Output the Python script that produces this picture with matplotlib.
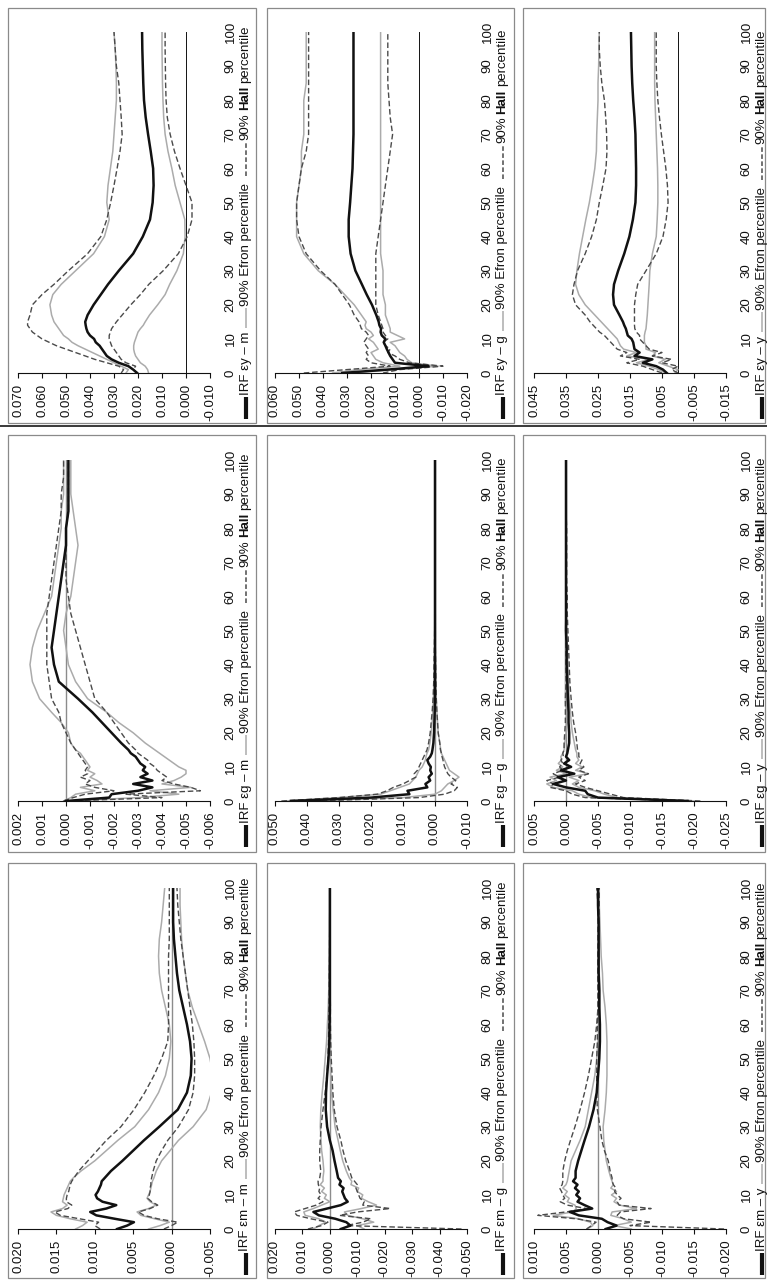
import matplotlib
matplotlib.use("Agg")
import matplotlib.pyplot as plt
from matplotlib import font_manager
from matplotlib.lines import Line2D
from matplotlib.patches import Rectangle

avail = {f.name for f in font_manager.fontManager.ttflist}
FAM = [f for f in ["Liberation Sans Narrow", "Liberation Sans", "DejaVu Sans"] if f in avail]
plt.rcParams['font.family'] = FAM

# ---------------- data ----------------
H = [0, 1, 2, 3, 4, 5, 6, 7, 8, 9, 10, 11, 12, 13, 14, 15, 17, 20, 23, 26, 30, 35, 40, 45,
     50, 55, 60, 65, 70, 75, 80, 85, 90, 95, 100]
HORIZON_TICKS = [0, 10, 20, 30, 40, 50, 60, 70, 80, 90, 100]

# shock e_y -> m
ym_irf = [0.0204, 0.022, 0.024, 0.028, 0.031, 0.033, 0.034, 0.035, 0.036, 0.0376, 0.0383, 0.040, 0.041, 0.0415, 0.0418, 0.042,
          0.041, 0.0385, 0.0355, 0.0325, 0.028, 0.022, 0.018, 0.015, 0.0139, 0.0135, 0.0137, 0.0147, 0.0158, 0.0168, 0.0175, 0.0178, 0.018, 0.0182, 0.0183]
ym_efron_hi = [0.025, 0.024, 0.027, 0.030, 0.033, 0.036, 0.039, 0.042, 0.045, 0.0475, 0.049, 0.051, 0.052, 0.053, 0.054, 0.055,
               0.056, 0.0567, 0.0555, 0.052, 0.046, 0.0385, 0.034, 0.032, 0.033, 0.0325, 0.0315, 0.0305, 0.030, 0.0295, 0.029, 0.029, 0.0292, 0.0295, 0.030]
ym_efron_lo = [0.0156, 0.016, 0.017, 0.019, 0.020, 0.021, 0.0215, 0.0218, 0.0218, 0.0215, 0.021, 0.0205, 0.020, 0.019, 0.0178, 0.017,
               0.0152, 0.0118, 0.0087, 0.0068, 0.0038, 0.0011, 0.0004, 0.0005, 0.0025, 0.0045, 0.0059, 0.0075, 0.0087, 0.0093, 0.0096, 0.0098, 0.0099, 0.010, 0.010]
ym_hall_hi = [0.027, 0.026, 0.028, 0.033, 0.038, 0.042, 0.046, 0.050, 0.054, 0.057, 0.060, 0.062, 0.064, 0.065, 0.066, 0.066,
              0.065, 0.064, 0.060, 0.055, 0.049, 0.041, 0.0355, 0.033, 0.0314, 0.030, 0.0287, 0.0275, 0.0266, 0.027, 0.0275, 0.028, 0.029, 0.0295, 0.030]
ym_hall_lo = [0.020, 0.022, 0.021, 0.025, 0.027, 0.028, 0.029, 0.030, 0.031, 0.0315, 0.032, 0.032, 0.0315, 0.031, 0.030, 0.029,
              0.0266, 0.023, 0.019, 0.0155, 0.0095, 0.0032, -0.0005, -0.0025, -0.0025, 0.0, 0.0025, 0.0048, 0.0066, 0.0078, 0.0083, 0.0085, 0.0086, 0.0087, 0.0087]

# shock e_y -> g
yg_irf = [0.032, 0.013, -0.004, 0.010, 0.011, 0.012, 0.0127, 0.0134, 0.014, 0.0147, 0.014, 0.0155, 0.016, 0.0158, 0.0165, 0.0168,
          0.0178, 0.0196, 0.0218, 0.0238, 0.0265, 0.0285, 0.0293, 0.0293, 0.0287, 0.0282, 0.0277, 0.0275, 0.0273, 0.0273, 0.0273, 0.0273, 0.0273, 0.0273, 0.0273]
yg_efron_hi = [0.036, 0.025, 0.008, 0.015, 0.018, 0.019, 0.020, 0.017, 0.018, 0.019, 0.021, 0.019, 0.020, 0.022, 0.0225, 0.022,
               0.024, 0.027, 0.031, 0.035, 0.042, 0.048, 0.051, 0.051, 0.051, 0.050, 0.049, 0.049, 0.048, 0.048, 0.048, 0.047, 0.047, 0.047, 0.047]
yg_efron_lo = [0.028, 0.010, -0.008, 0.003, 0.005, 0.006, 0.008, 0.009, 0.010, 0.012, 0.006, 0.009, 0.012, 0.012, 0.0125, 0.013,
               0.014, 0.014, 0.015, 0.015, 0.015, 0.016, 0.016, 0.016, 0.016, 0.016, 0.016, 0.016, 0.016, 0.016, 0.016, 0.016, 0.016, 0.016, 0.016]
yg_hall_hi = [0.048, 0.030, 0.012, 0.020, 0.022, 0.021, 0.022, 0.021, 0.022, 0.023, 0.022, 0.021, 0.022, 0.024, 0.0245, 0.025,
              0.027, 0.029, 0.032, 0.035, 0.041, 0.047, 0.050, 0.051, 0.051, 0.050, 0.049, 0.047, 0.046, 0.046, 0.046, 0.046, 0.046, 0.046, 0.046]
yg_hall_lo = [0.015, 0.008, -0.010, 0.004, 0.008, 0.010, 0.013, 0.012, 0.014, 0.015, 0.013, 0.014, 0.015, 0.015, 0.0155, 0.016,
              0.017, 0.018, 0.018, 0.018, 0.018, 0.018, 0.017, 0.016, 0.015, 0.014, 0.013, 0.012, 0.011, 0.012, 0.0125, 0.013, 0.013, 0.013, 0.013]

# shock e_y -> y
yy_irf = [0.0035, 0.0047, 0.0068, 0.011, 0.008, 0.0136, 0.012, 0.0136, 0.0138, 0.014, 0.0145, 0.0157, 0.016, 0.0163, 0.0168, 0.0172,
          0.0183, 0.0200, 0.0203, 0.0200, 0.0187, 0.0168, 0.0152, 0.0141, 0.0133, 0.0131, 0.0131, 0.0132, 0.0133, 0.0136, 0.0140, 0.0143, 0.0145, 0.0146, 0.0147]
yy_efron_hi = [0.004, 0.006, 0.009, 0.013, 0.009, 0.016, 0.013, 0.017, 0.018, 0.0185, 0.019, 0.020, 0.021, 0.022, 0.023, 0.024,
               0.026, 0.029, 0.031, 0.032, 0.0316, 0.0308, 0.0298, 0.0288, 0.0277, 0.0268, 0.026, 0.0255, 0.0254, 0.0252, 0.025, 0.025, 0.0248, 0.0247, 0.0246]
yy_efron_lo = [0.001, 0.000, 0.003, 0.006, 0.004, 0.008, 0.007, 0.010, 0.010, 0.0105, 0.0105, 0.0105, 0.0103, 0.0100, 0.0099, 0.0098,
               0.0096, 0.0094, 0.0092, 0.0090, 0.0088, 0.0080, 0.0068, 0.0065, 0.0063, 0.0063, 0.0064, 0.0066, 0.0068, 0.0070, 0.0072, 0.0073, 0.0073, 0.0073, 0.0073]
yy_hall_hi = [0.005, 0.008, 0.011, 0.016, 0.012, 0.018, 0.016, 0.019, 0.020, 0.021, 0.022, 0.023, 0.0245, 0.0255, 0.0265, 0.0275,
              0.029, 0.032, 0.033, 0.0325, 0.0314, 0.029, 0.0270, 0.0255, 0.0246, 0.0235, 0.0225, 0.0222, 0.0223, 0.0226, 0.0230, 0.0238, 0.0243, 0.0246, 0.0246]
yy_hall_lo = [0.000, 0.002, 0.000, 0.005, 0.002, 0.008, 0.005, 0.009, 0.010, 0.011, 0.012, 0.012, 0.013, 0.0135, 0.0136, 0.0136,
              0.0136, 0.0136, 0.0132, 0.0126, 0.0100, 0.0068, 0.0047, 0.0037, 0.0031, 0.0033, 0.0038, 0.0045, 0.0052, 0.0058, 0.0063, 0.0066, 0.0068, 0.0068, 0.0068]

# shock e_g -> m
gm_irf = [0.0, -0.0018, -0.0019, -0.0030, -0.0036, -0.0028, -0.0036, -0.0031, -0.0034, -0.0032, -0.0033, -0.0031, -0.0030, -0.0029, -0.0027, -0.0026,
          -0.0023, -0.0019, -0.0015, -0.0011, -0.0005, 0.0003, 0.0005, 0.0006, 0.0005, 0.0004, 0.0003, 0.0002, 0.0001, 0.0, 0.0, -0.0001, -0.0001, -0.0001, -0.0001]
gm_efron_hi = [0.0001, -0.0002, -0.0004, -0.0012, -0.0006, -0.0015, -0.0013, -0.0010, -0.0012, -0.0009, -0.0010, -0.0009, -0.0008, -0.0007, -0.0006, -0.0004,
               -0.0002, -0.0001, 0.0002, 0.0006, 0.0011, 0.0014, 0.0015, 0.0014, 0.0012, 0.0009, 0.0006, 0.0005, 0.0004, 0.0003, 0.0002, 0.0002, 0.0001, 0.0001, 0.0001]
gm_efron_lo = [-0.0001, -0.0030, -0.0047, -0.0035, -0.0052, -0.0040, -0.0045, -0.0048, -0.0050, -0.0050, -0.0047, -0.0045, -0.0043, -0.0041, -0.0039, -0.0037,
               -0.0033, -0.0028, -0.0022, -0.0017, -0.0009, -0.0004, -0.0001, 0.0, 0.0001, 0.0, -0.0002, -0.0003, -0.0004, -0.0005, -0.0004, -0.0003, -0.0002, -0.0002, -0.0002]
gm_hall_hi = [0.0001, -0.0003, -0.0008, -0.0020, -0.0012, -0.0008, -0.0010, -0.0006, -0.0009, -0.0008, -0.0009, -0.0008, -0.0007, -0.0006, -0.0005, -0.0004,
              -0.0002, 0.0, 0.0002, 0.0003, 0.0006, 0.0007, 0.0008, 0.0008, 0.0008, 0.0008, 0.0007, 0.0006, 0.0005, 0.0004, 0.0003, 0.0002, 0.0002, 0.0001, 0.0001]
gm_hall_lo = [-0.0001, -0.0040, -0.0025, -0.0056, -0.0052, -0.0045, -0.0040, -0.0042, -0.0040, -0.0038, -0.0037, -0.0035, -0.0034, -0.0032, -0.0030, -0.0029,
              -0.0026, -0.0023, -0.0020, -0.0017, -0.0012, -0.0010, -0.0008, -0.0006, -0.0004, -0.0002, -0.0001, 0.0, 0.0, 0.0, 0.0, -0.0001, -0.0001, -0.0001, -0.0001]

# shock e_g -> g
gg_irf = [0.045, 0.020, 0.008, 0.0086, 0.0024, 0.003, 0.0015, 0.002, 0.001, 0.0015, 0.0013, 0.0020, 0.0024, 0.0015, 0.0010, 0.0008,
          0.0005, 0.0003, 0.0002, 0.0001, 0.0, 0.0, 0.0, 0.0, 0.0, 0.0, 0.0, 0.0, 0.0, 0.0, 0.0, 0.0, 0.0, 0.0, 0.0]
gg_efron_hi = [0.047, 0.030, 0.017, 0.014, 0.011, 0.008, 0.007, 0.006, 0.0055, 0.005, 0.004, 0.0035, 0.003, 0.0028, 0.0025, 0.002,
               0.0016, 0.0012, 0.0009, 0.0007, 0.0005, 0.0003, 0.0002, 0.0001, 0.0001, 0.0, 0.0, 0.0, 0.0, 0.0, 0.0, 0.0, 0.0, 0.0, 0.0]
gg_efron_lo = [0.040, 0.010, 0.0, -0.002, -0.003, -0.004, -0.006, -0.0075, -0.006, -0.0045, -0.004, -0.0035, -0.003, -0.0025, -0.002, -0.0018,
               -0.0015, -0.001, -0.0008, -0.0006, -0.0004, -0.0003, -0.0002, -0.0001, -0.0001, 0.0, 0.0, 0.0, 0.0, 0.0, 0.0, 0.0, 0.0, 0.0, 0.0]
gg_hall_hi = [0.048, 0.030, 0.018, 0.015, 0.013, 0.010, 0.008, 0.006, 0.0065, 0.0055, 0.005, 0.0045, 0.004, 0.0035, 0.003, 0.0025,
              0.002, 0.0015, 0.0012, 0.0009, 0.0006, 0.0004, 0.0003, 0.0002, 0.0001, 0.0001, 0.0, 0.0, 0.0, 0.0, 0.0, 0.0, 0.0, 0.0, 0.0]
gg_hall_lo = [0.038, 0.005, -0.003, -0.006, -0.007, -0.005, -0.0065, -0.005, -0.004, -0.0035, -0.003, -0.0027, -0.0025, -0.0022, -0.002, -0.0017,
              -0.0015, -0.001, -0.0008, -0.0006, -0.0004, -0.0003, -0.0002, -0.0001, -0.0001, -0.0001, 0.0, 0.0, 0.0, 0.0, 0.0, 0.0, 0.0, 0.0, 0.0]

# shock e_g -> y
gy_irf = [-0.019, -0.005, -0.0034, -0.003, 0.0, 0.002, 0.0, 0.0013, -0.0013, 0.0008, -0.0008, 0.0003, -0.0005, 0.0, -0.0002, -0.0003,
          -0.0005, -0.0005, -0.0004, -0.0004, -0.0003, -0.0002, -0.0001, -0.0001, 0.0, 0.0, 0.0, 0.0, 0.0, 0.0, 0.0, 0.0, 0.0, 0.0, 0.0]
gy_efron_hi = [-0.0195, -0.004, -0.002, -0.001, 0.002, 0.003, 0.0015, 0.0025, 0.0, 0.0015, 0.0005, 0.0012, 0.0007, 0.0008, 0.0005, 0.0003,
               0.0002, 0.0, 0.0, 0.0, 0.0001, 0.0001, 0.0001, 0.0001, 0.0001, 0.0, 0.0, 0.0, 0.0, 0.0, 0.0, 0.0, 0.0, 0.0, 0.0]
gy_efron_lo = [-0.020, -0.008, -0.006, -0.0045, -0.002, -0.001, -0.002, -0.0005, -0.0035, -0.0015, -0.0025, -0.0015, -0.002, -0.0017, -0.0017, -0.0015,
               -0.0013, -0.001, -0.0008, -0.0007, -0.0005, -0.0004, -0.0003, -0.0002, -0.0001, -0.0001, 0.0, 0.0, 0.0, 0.0, 0.0, 0.0, 0.0, 0.0, 0.0]
gy_hall_hi = [-0.019, -0.003, -0.001, 0.0, 0.0025, 0.002, 0.003, 0.001, 0.002, 0.0005, 0.001, 0.0005, 0.0008, 0.0004, 0.0005, 0.0003,
              0.0003, 0.0002, 0.0001, 0.0001, 0.0001, 0.0, 0.0, 0.0, 0.0, 0.0, 0.0, 0.0, 0.0, 0.0, 0.0, 0.0, 0.0, 0.0, 0.0]
gy_hall_lo = [-0.021, -0.009, -0.007, -0.005, -0.003, -0.0015, -0.003, -0.002, -0.0035, -0.002, -0.0028, -0.0022, -0.0025, -0.002, -0.002, -0.0018,
              -0.0017, -0.0015, -0.0012, -0.001, -0.0008, -0.0006, -0.0005, -0.0004, -0.0003, -0.0002, -0.0002, -0.0001, -0.0001, -0.0001, -0.0001, 0.0, 0.0, 0.0, 0.0]

# shock e_m -> m
mm_irf = [0.0071, 0.0058, 0.0049, 0.0074, 0.0098, 0.0106, 0.0085, 0.0072, 0.0090, 0.0097, 0.0099, 0.0096, 0.0094, 0.0092, 0.0091, 0.0087,
          0.0079, 0.0064, 0.0050, 0.0036, 0.0016, -0.0008, -0.0020, -0.0025, -0.0026, -0.0024, -0.0020, -0.0015, -0.0010, -0.0007, -0.0005, -0.0003, -0.0002, -0.0002, -0.0002]
mm_efron_hi = [0.0125, 0.0116, 0.0110, 0.0132, 0.0150, 0.0157, 0.0142, 0.0136, 0.0142, 0.0141, 0.0140, 0.0138, 0.0136, 0.0134, 0.0132, 0.0128,
               0.0118, 0.0100, 0.0085, 0.0070, 0.0048, 0.0030, 0.0017, 0.0008, 0.0003, 0.0001, 0.0003, 0.0008, 0.0013, 0.0016, 0.0017, 0.0016, 0.0013, 0.0011, 0.0009]
mm_efron_lo = [0.0030, 0.0015, 0.0003, 0.0022, 0.0040, 0.0045, 0.0030, 0.0020, 0.0028, 0.0032, 0.0030, 0.0028, 0.0027, 0.0026, 0.0025, 0.0023,
               0.0020, 0.0013, 0.0002, -0.0009, -0.0028, -0.0045, -0.0052, -0.0054, -0.0050, -0.0043, -0.0035, -0.0027, -0.0021, -0.0018, -0.0015, -0.0013, -0.0012, -0.0011, -0.0011]
mm_hall_hi = [0.0093, 0.0100, 0.0095, 0.0120, 0.0145, 0.0152, 0.0135, 0.0130, 0.0137, 0.0137, 0.0136, 0.0134, 0.0133, 0.0132, 0.0130, 0.0127,
              0.0121, 0.0109, 0.0097, 0.0085, 0.0066, 0.0049, 0.0035, 0.0023, 0.0013, 0.0005, 0.0004, 0.0004, 0.0004, 0.0004, 0.0004, 0.0003, 0.0003, 0.0003, 0.0003]
mm_hall_lo = [0.0010, 0.0, -0.0008, 0.0018, 0.0036, 0.0043, 0.0028, 0.0018, 0.0026, 0.0031, 0.0029, 0.0028, 0.0028, 0.0027, 0.0027, 0.0026,
              0.0024, 0.0020, 0.0013, 0.0005, -0.0009, -0.0022, -0.0028, -0.0030, -0.0030, -0.0029, -0.0027, -0.0024, -0.0021, -0.0018, -0.0015, -0.0012, -0.0010, -0.0008, -0.0007]

# shock e_m -> g
mg_irf = [-0.004, -0.0075, -0.006, -0.002, 0.004, 0.006, 0.001, -0.004, -0.0065, -0.0055, -0.005, -0.0045, -0.0050, -0.0035, -0.0040, -0.003,
          -0.0025, -0.0017, -0.0010, 0.0, 0.0010, 0.0015, 0.0014, 0.0010, 0.0005, 0.0002, 0.0001, 0.0, 0.0, 0.0, 0.0, 0.0, 0.0, 0.0, 0.0]
mg_efron_hi = [0.006, 0.004, 0.0015, 0.004, 0.009, 0.0095, 0.006, 0.003, 0.0, 0.002, 0.0013, 0.003, 0.002, 0.0035, 0.0025, 0.0025,
               0.0022, 0.0025, 0.0030, 0.0032, 0.0035, 0.0033, 0.0028, 0.0022, 0.0017, 0.0012, 0.0009, 0.0006, 0.0004, 0.0003, 0.0002, 0.0001, 0.0001, 0.0, 0.0]
mg_efron_lo = [-0.0125, -0.010, -0.016, -0.012, -0.0065, -0.0053, -0.0115, -0.0170, -0.014, -0.0115, -0.0120, -0.010, -0.0105, -0.0077, -0.008, -0.0071,
               -0.006, -0.0047, -0.0038, -0.0030, -0.0019, -0.0012, -0.0006, -0.0003, -0.0002, -0.0002, -0.0002, -0.0001, -0.0001, 0.0, 0.0, 0.0, 0.0, 0.0, 0.0]
mg_hall_hi = [0.008, 0.003, 0.0007, 0.007, 0.012, 0.013, 0.009, 0.005, 0.0025, 0.0043, 0.0032, 0.004, 0.0037, 0.0042, 0.0043, 0.0037,
              0.0033, 0.0037, 0.0037, 0.0035, 0.0032, 0.0025, 0.0017, 0.0011, 0.0007, 0.0005, 0.0004, 0.0003, 0.0002, 0.0002, 0.0001, 0.0001, 0.0, 0.0, 0.0]
mg_hall_lo = [-0.048, -0.006, -0.012, -0.015, -0.0035, -0.0100, -0.022, -0.012, -0.0125, -0.011, -0.0105, -0.0100, -0.0095, -0.0100, -0.0090, -0.0080,
              -0.0072, -0.0058, -0.0048, -0.0040, -0.0026, -0.0016, -0.0011, -0.0008, -0.0005, -0.0003, -0.0002, -0.0002, -0.0001, -0.0001, 0.0, 0.0, 0.0, 0.0, 0.0]

# shock e_m -> y
my_irf = [-0.0012, -0.0029, -0.0015, -0.0006, 0.0030, 0.0044, 0.0009, 0.0021, 0.0032, 0.0028, 0.0034, 0.0030, 0.0036, 0.0032, 0.0039, 0.0035,
          0.0035, 0.0031, 0.0026, 0.0021, 0.0014, 0.0007, 0.0002, 0.0, -0.0002, -0.0003, -0.0003, -0.0002, -0.0002, -0.0001, -0.0001, -0.0001, -0.0001, 0.0, 0.0]
my_efron_hi = [0.0017, 0.0008, 0.0012, 0.0030, 0.0070, 0.0040, 0.0034, 0.0036, 0.0048, 0.0045, 0.0052, 0.0048, 0.0055, 0.0050, 0.0048, 0.0047,
               0.0045, 0.0042, 0.0035, 0.0028, 0.0020, 0.0015, 0.0010, 0.0005, 0.0002, 0.0, -0.0002, -0.0003, -0.0003, -0.0002, -0.0002, -0.0001, -0.0001, 0.0, 0.0]
my_efron_lo = [-0.0052, -0.0025, -0.0052, -0.0040, -0.0020, -0.0022, -0.0060, -0.0034, -0.0025, -0.0029, -0.0021, -0.0029, -0.0020, -0.0024, -0.0022, -0.0020,
               -0.0017, -0.0013, -0.0011, -0.0009, -0.0008, -0.0011, -0.0013, -0.0014, -0.0014, -0.0014, -0.0013, -0.0011, -0.0008, -0.0007, -0.0005, -0.0004, -0.0003, -0.0002, -0.0002]
my_hall_hi = [0.0018, 0.0010, 0.0003, 0.0034, 0.0094, 0.0050, 0.0018, 0.0048, 0.0059, 0.0052, 0.0055, 0.0057, 0.0060, 0.0056, 0.0055, 0.0055,
              0.0055, 0.0052, 0.0048, 0.0043, 0.0036, 0.0028, 0.0021, 0.0015, 0.0010, 0.0005, 0.0002, 0.0, 0.0, 0.0, 0.0, 0.0, 0.0, 0.0, 0.0002]
my_hall_lo = [-0.0197, -0.0050, -0.0083, -0.0040, -0.0030, -0.0035, -0.0083, -0.0033, -0.0030, -0.0036, -0.0030, -0.0026, -0.0028, -0.0024, -0.0022, -0.0022,
              -0.0019, -0.0016, -0.0010, -0.0006, -0.0003, 0.0001, 0.0002, 0.0002, 0.0002, 0.0001, 0.0001, 0.0, 0.0, 0.0, 0.0, -0.0001, -0.0001, -0.0002, -0.0002]

# value-axis ticks per panel
ym_ticks = [0.070, 0.060, 0.050, 0.040, 0.030, 0.020, 0.010, 0.000, -0.010]
yg_ticks = [0.060, 0.050, 0.040, 0.030, 0.020, 0.010, 0.000, -0.010, -0.020]
yy_ticks = [0.045, 0.035, 0.025, 0.015, 0.005, -0.005, -0.015]
gm_ticks = [0.002, 0.001, 0.000, -0.001, -0.002, -0.003, -0.004, -0.005, -0.006]
gg_ticks = [0.050, 0.040, 0.030, 0.020, 0.010, 0.000, -0.010]
gy_ticks = [0.005, 0.000, -0.005, -0.010, -0.015, -0.020, -0.025]
mm_ticks = [0.020, 0.015, 0.010, 0.005, 0.000, -0.005]
mg_ticks = [0.020, 0.010, 0.000, -0.010, -0.020, -0.030, -0.040, -0.050]
my_ticks = [0.010, 0.005, 0.000, -0.005, -0.010, -0.015, -0.020]

LEG_IRF = "IRF"
LEG_EFRON = "90% Efron percentile"
LEG_HALL = ["90%", "Hall", "percentile"]

# (row, col, shock, response, ticks, series)
PANELS = [
    (0, 0, "y", "m", ym_ticks, (ym_irf, ym_efron_hi, ym_efron_lo, ym_hall_hi, ym_hall_lo)),
    (0, 1, "y", "g", yg_ticks, (yg_irf, yg_efron_hi, yg_efron_lo, yg_hall_hi, yg_hall_lo)),
    (0, 2, "y", "y", yy_ticks, (yy_irf, yy_efron_hi, yy_efron_lo, yy_hall_hi, yy_hall_lo)),
    (1, 0, "g", "m", gm_ticks, (gm_irf, gm_efron_hi, gm_efron_lo, gm_hall_hi, gm_hall_lo)),
    (1, 1, "g", "g", gg_ticks, (gg_irf, gg_efron_hi, gg_efron_lo, gg_hall_hi, gg_hall_lo)),
    (1, 2, "g", "y", gy_ticks, (gy_irf, gy_efron_hi, gy_efron_lo, gy_hall_hi, gy_hall_lo)),
    (2, 0, "m", "m", mm_ticks, (mm_irf, mm_efron_hi, mm_efron_lo, mm_hall_hi, mm_hall_lo)),
    (2, 1, "m", "g", mg_ticks, (mg_irf, mg_efron_hi, mg_efron_lo, mg_hall_hi, mg_hall_lo)),
    (2, 2, "m", "y", my_ticks, (my_irf, my_efron_hi, my_efron_lo, my_hall_hi, my_hall_lo)),
]

# ---------------- layout (pixels) ----------------
W, HPX = 767, 1280
FRAME_X = [(8, 256), (267, 514), (523, 765)]
FRAME_Y = [(8, 423), (435, 852), (863, 1278)]
AX_LEFT = [18, 275, 534]
AX_W = 192
AX_TOP = [32, 460, 888]
AX_H = 341
LAB_OFF = 20.5    # horizon label centre, px right of the axes
LEG_OFF = 35.5    # legend centre, px right of the axes

C_IRF = "#111111"
C_EFRON = "#ababab"
C_HALL = "#4a4a4a"
FS = 9.5


def fx(x):
    return x / W


def fy(y):
    return 1 - y / HPX


fig = plt.figure(figsize=(W / 100, HPX / 100), dpi=100)
fig.patch.set_facecolor("white")

for (x0, x1) in FRAME_X:
    for (y0, y1) in FRAME_Y:
        fig.add_artist(Rectangle((fx(x0), fy(y1)), fx(x1) - fx(x0), fy(y0) - fy(y1),
                                 transform=fig.transFigure, fill=False,
                                 edgecolor="#8a8a8a", linewidth=0.9))
fig.add_artist(Line2D([0, 1], [fy(426), fy(426)], transform=fig.transFigure,
                      color="#2a2a2a", linewidth=1.3))

axes = []
for (r, c, shock, resp, ticks, series) in PANELS:
    left = AX_LEFT[c]
    top = AX_TOP[r]
    ax = fig.add_axes([fx(left), fy(top + AX_H), AX_W / W, AX_H / HPX])
    irf, e_hi, e_lo, h_hi, h_lo = series
    zero_col = "#111111" if r == 0 else "#8c8c8c"
    zero_lw = 0.7 if r == 0 else 1.0
    ax.axvline(0, color=zero_col, lw=zero_lw, zorder=1)
    ax.plot(e_hi, H, color=C_EFRON, lw=1.1, zorder=2)
    ax.plot(e_lo, H, color=C_EFRON, lw=1.1, zorder=2)
    ax.plot(h_hi, H, color=C_HALL, lw=1.0, dashes=(4, 2), zorder=3)
    ax.plot(h_lo, H, color=C_HALL, lw=1.0, dashes=(4, 2), zorder=3)
    ax.plot(irf, H, color=C_IRF, lw=1.8, zorder=4)

    ax.set_xlim(ticks[0], ticks[-1])
    ax.set_ylim(0, 100)
    for s in ["left", "right", "top"]:
        ax.spines[s].set_visible(False)
    ax.spines["bottom"].set_color("#111111")
    ax.spines["bottom"].set_linewidth(0.8)
    ax.patch.set_alpha(0)

    ax.set_xticks(ticks)
    ax.set_xticklabels([f"{t:.3f}" for t in ticks])
    ax.tick_params(axis="x", direction="out", length=3.5, width=0.8, pad=4,
                   labelrotation=90, labelsize=FS, colors="#111111")
    ax.yaxis.tick_right()
    ax.set_yticks(HORIZON_TICKS)
    ax.set_yticklabels([str(h) for h in HORIZON_TICKS])
    ax.tick_params(axis="y", length=0, pad=LAB_OFF / 1.3889, labelrotation=90,
                   labelsize=FS, colors="#111111")
    for lab in ax.get_yticklabels():
        lab.set_va("center")
        lab.set_ha("center")
    axes.append((ax, r, c, shock, resp))

fig.canvas.draw()
rend = fig.canvas.get_renderer()

for (ax, r, c, shock, resp) in axes:
    lx = AX_LEFT[c] + AX_W + LEG_OFF
    y = AX_TOP[r] + AX_H + 46  # bottom of legend (pixels from top)

    def seg(length, **kw):
        global y
        fig.add_artist(Line2D([fx(lx), fx(lx)], [fy(y), fy(y - length)],
                              transform=fig.transFigure, solid_capstyle="butt", **kw))
        y -= length

    def txt(s, weight="normal", gap=0.0):
        global y
        t = fig.text(fx(lx), fy(y), s, rotation=90, ha="center", va="bottom",
                     fontsize=FS, fontweight=weight, color="#111111")
        ext = t.get_window_extent(rend)
        y -= ext.height + gap

    seg(22, color=C_IRF, lw=3.0)
    y -= 2
    txt(f"{LEG_IRF} \u03b5{shock} \u2013 {resp}", gap=4)
    seg(20, color=C_EFRON, lw=1.1)
    y -= 2
    txt(LEG_EFRON, gap=7)
    seg(34, color=C_HALL, lw=1.1, dashes=(3, 1.6))
    y -= 2
    txt(LEG_HALL[0], gap=3)
    txt(LEG_HALL[1], weight="bold", gap=3)
    txt(LEG_HALL[2])

fig.savefig("out.png", dpi=100, facecolor="white")
